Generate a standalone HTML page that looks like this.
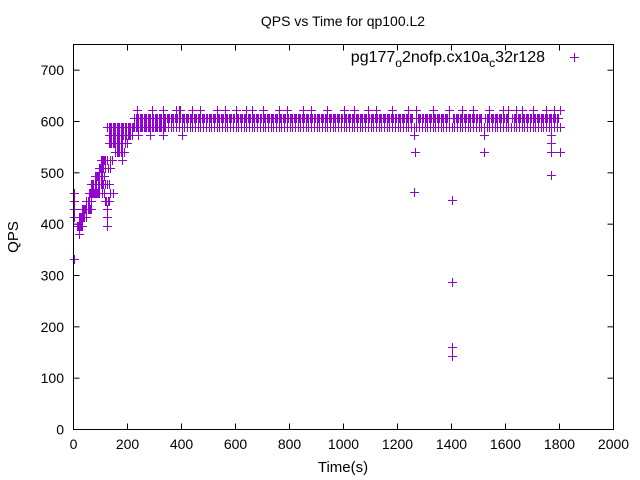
<!DOCTYPE html>
<html><head><meta charset="utf-8"><style>
html,body{margin:0;padding:0;background:#fff;}
svg{display:block;font-family:"Liberation Sans",sans-serif;}
</style></head><body>
<svg id="chart" width="640" height="480">
<rect x="0" y="0" width="640" height="480" fill="#fff"/>
<text x="343" y="26" text-anchor="middle" font-size="14">QPS vs Time for qp100.L2</text>
<text x="343" y="472" text-anchor="middle" font-size="15">Time(s)</text>
<text transform="translate(18,237) rotate(-90)" text-anchor="middle" font-size="15">QPS</text>
<g id="axes"></g>
<g id="marks" shape-rendering="crispEdges"></g>
<text x="545" y="62" text-anchor="end" font-size="16">pg177<tspan font-size="12" dy="5">o</tspan><tspan dy="-5">2nofp.cx10a</tspan><tspan font-size="12" dy="5">c</tspan><tspan dy="-5">32r128</tspan></text>
<g shape-rendering="crispEdges"><line x1="570" y1="57.5" x2="579" y2="57.5" stroke="#9400d3" stroke-width="1"/><line x1="574.5" y1="53" x2="574.5" y2="62" stroke="#9400d3" stroke-width="1"/></g>
<rect x="73.5" y="44.5" width="540" height="385" fill="none" stroke="#000" stroke-width="1"/>
</svg>
<script>
const xTicks=[0,200,400,600,800,1000,1200,1400,1600,1800,2000];
const yTicks=[0,100,200,300,400,500,600,700];
const levels=[332,381,397,413,429,445,460,478,493,509,525,541,558,574,590,607,623];
const t332=[0];
const t381=[20];
const t397=[12,16,20,24,28,32,125];
const t413=[0,20,24,28,32,36,40,45,125];
const t429=[0,32,36,40,44,48,52,56,60,63,125];
const t445=[0,45,48,52,55,58,63,118,122,127,131];
const t460=[0,57,61,65,69,72,76,80,84,88,92,96,104,112,135,145];
const t478=[63,67,70,74,78,82,85,89,92,96,100,104,108,116,124,131];
const t493=[81,85,88,92,96,100,104,112];
const t509=[94,98,102,106,110,118,126,137];
const t525=[100,104,108,112,116,124,134,143,180];
const t541=[155,160,165,170,175,180,186,1265,1520,1770,1800];
const t558=[131,135,140,145,150,155,160,165,170,175,180,190,199,1770];
const t574=[131,135,140,145,150,155,160,165,170,175,180,185,190,195,200,205,210,217,240,285,330,400,1260,1520,1770];
const t590=[125,130,135,140,145,150,155,160,165,170,175,180,185,190,195,200,205,210,215,220,225,230,235,240,245,250,255,260,265,270,275,280,285,290,295,300,305,310,315,320,325,330,335,340,350,360,370,380,390,400,410,420,430,440,450,460,470,480,490,500,510,520,530,540,550,560,570,580,590,600,610,620,630,640,650,660,670,680,690,700,710,720,730,740,750,760,770,780,790,800,810,820,830,840,850,860,870,880,890,900,910,920,930,940,950,960,970,980,990,1000,1010,1020,1030,1040,1050,1060,1070,1080,1090,1100,1110,1120,1130,1140,1150,1160,1170,1180,1190,1200,1210,1220,1230,1240,1250,1260,1270,1280,1290,1300,1310,1320,1330,1340,1350,1360,1370,1380,1390,1400,1410,1420,1430,1440,1450,1460,1470,1480,1490,1500,1510,1520,1530,1540,1550,1560,1570,1580,1590,1600,1610,1620,1630,1640,1650,1660,1670,1680,1690,1700,1710,1720,1730,1740,1750,1760,1770,1780,1790,1800];
const t607=[225,230,235,240,245,250,255,260,265,270,275,280,285,290,295,300,305,310,315,320,325,330,335,340,345,350,355,360,365,370,375,380,385,390,395,400,405,410,415,420,425,430,435,440,445,450,455,460,465,470,475,480,485,490,495,500,505,510,515,520,525,530,535,540,545,550,555,560,565,570,575,580,585,590,595,600,605,610,615,620,625,630,635,640,645,650,655,660,665,670,675,680,685,690,695,700,705,710,715,720,725,730,735,740,745,750,755,760,765,770,775,780,785,790,795,800,805,810,815,820,825,830,835,840,845,850,855,860,865,870,875,880,885,890,895,900,905,910,915,920,925,930,935,940,945,950,955,960,965,970,975,980,985,990,995,1000,1005,1010,1015,1020,1025,1030,1035,1040,1045,1050,1055,1060,1065,1070,1075,1080,1085,1090,1095,1100,1105,1110,1115,1120,1125,1130,1135,1140,1145,1150,1155,1160,1165,1170,1175,1180,1185,1190,1195,1200,1205,1210,1215,1220,1225,1230,1235,1240,1245,1250,1255,1270,1275,1280,1285,1290,1295,1300,1305,1310,1315,1320,1325,1330,1335,1340,1345,1350,1355,1360,1365,1370,1375,1380,1385,1390,1405,1410,1415,1420,1425,1430,1435,1440,1445,1450,1455,1460,1465,1470,1475,1480,1485,1490,1495,1500,1505,1510,1525,1530,1535,1540,1545,1550,1555,1560,1565,1570,1575,1580,1585,1590,1595,1600,1605,1610,1625,1630,1635,1640,1645,1650,1655,1660,1665,1670,1675,1680,1685,1690,1695,1700,1705,1710,1715,1720,1725,1730,1735,1740,1745,1750,1755,1760,1765,1770,1775,1780,1785,1790,1795];
const t623=[236,290,330,380,390,395,440,470,530,560,600,640,660,700,760,790,850,880,940,1000,1040,1090,1120,1180,1240,1270,1330,1390,1440,1480,1540,1590,1610,1640,1660,1700,1750,1780,1800];
const outT=[1260,1400,1400,1400,1400,1770];
const outV=[462,447,288,160,143,495];
const levelTimes=[t332,t381,t397,t413,t429,t445,t460,t478,t493,t509,t525,t541,t558,t574,t590,t607,t623];

const X0=73.5,X1=613.5,Y0=429.5,Y1=44.5;
function xs(t){return X0+(t/2000)*(X1-X0);}
function ys(v){return Y0-(v/750)*(Y0-Y1);}
const NS="http://www.w3.org/2000/svg";
const axes=document.getElementById('axes');
function mk(tag,attrs,parent){const e=document.createElementNS(NS,tag);for(const k in attrs)e.setAttribute(k,attrs[k]);parent.appendChild(e);return e;}
xTicks.forEach(t=>{
  const x=xs(t);
  const g=mk('g',{},axes);
  
  
  mk('line',{x1:x,x2:x,y1:Y0,y2:Y0-6,stroke:'#000'},g);
  mk('line',{x1:x,x2:x,y1:Y1,y2:Y1+6,stroke:'#000'},g);
  const tx=mk('text',{x:x,y:449,'text-anchor':'middle','font-size':14},g);
  tx.textContent=t;
});
yTicks.forEach(v=>{
  const y=ys(v);
  const g=mk('g',{},axes);
  
  
  mk('line',{x1:X0,x2:X0+6,y1:y,y2:y,stroke:'#000'},g);
  mk('line',{x1:X1,x2:X1-6,y1:y,y2:y,stroke:'#000'},g);
  const tx=mk('text',{x:64,y:y+5,'text-anchor':'end','font-size':14},g);
  tx.textContent=v;
});
const marks=document.getElementById('marks');
function plus(t,v){
  const x=Math.round(xs(t))+0.5,y=Math.round(ys(v))+0.5;
  const p=mk('path',{d:`M${x-4.5},${y}H${x+4.5}M${x},${y-4.5}V${y+4.5}`,stroke:'#9400d3','stroke-width':1,fill:'none'},marks);
  
  
}
levels.forEach((v,i)=>levelTimes[i].forEach(t=>plus(t,v)));
outT.forEach((t,i)=>plus(t,outV[i]));
</script>
</body></html>
